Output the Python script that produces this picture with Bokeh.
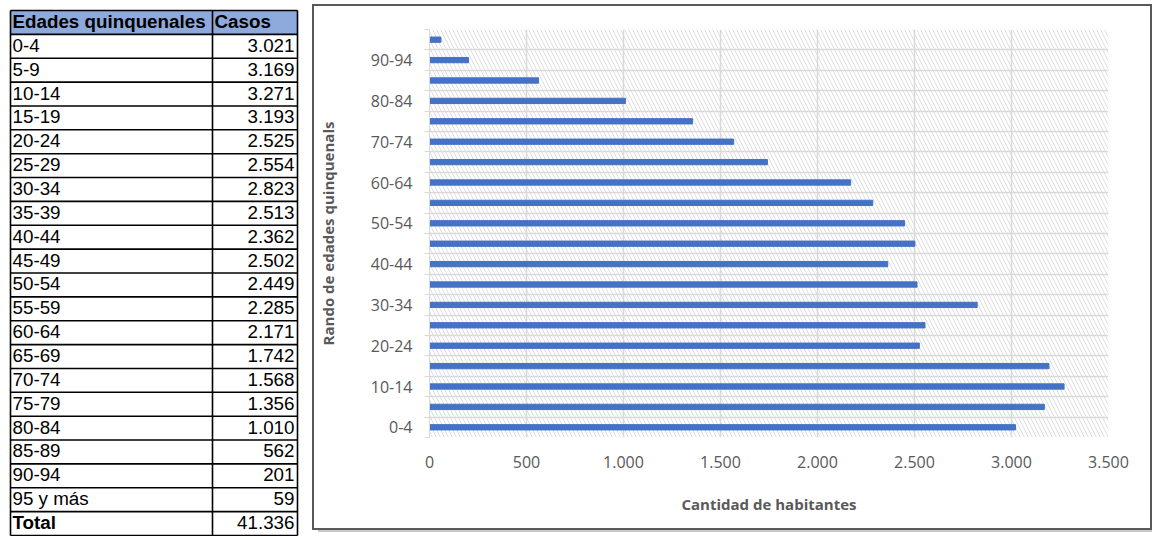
from bokeh.plotting import figure
from bokeh.models import Range1d, FixedTicker
from bokeh.core.properties import value
from bokeh.embed import file_html
from bokeh.resources import INLINE

# ---------------- data ----------------
age_groups = ["0-4", "5-9", "10-14", "15-19", "20-24", "25-29", "30-34", "35-39",
              "40-44", "45-49", "50-54", "55-59", "60-64", "65-69", "70-74", "75-79",
              "80-84", "85-89", "90-94", "95 y más"]
cases = [3021, 3169, 3271, 3193, 2525, 2554, 2823, 2513, 2362, 2502,
         2449, 2285, 2171, 1742, 1568, 1356, 1010, 562, 201, 59]
x_ticks = [0, 500, 1000, 1500, 2000, 2500, 3000, 3500]
x_tick_labels = ["0", "500", "1.000", "1.500", "2.000", "2.500", "3.000", "3.500"]
table_header = ["Edades quinquenales", "Casos"]
total_label = "Total"
x_title = "Cantidad de habitantes"
y_title = "Rando de edades quinquenals"


def fmt(v):
    return f"{v:,}".replace(",", ".")


# ---------------- table (left) ----------------
TW, TH = 312, 536
t = figure(width=TW, height=TH, x_range=Range1d(0, TW), y_range=Range1d(TH, 0),
           output_backend="svg", toolbar_location=None, min_border=0, title=None,
           styles={"position": "absolute", "left": "0px", "top": "0px"})
t.axis.visible = False
t.grid.visible = False
t.outline_line_color = None

row_labels = [table_header[0]] + age_groups + [total_label]
row_values = [table_header[1]] + [fmt(v) for v in cases] + [fmt(sum(cases))]
n = len(row_labels)
top0 = 10.0
rh = (TH - top0 - 1) / n
xl, xm, xr = 10.0, 212.0, 297.0

# header fill
t.quad(left=[xl], right=[xr], top=[top0], bottom=[top0 + rh],
       fill_color="#8EA9DB", line_color=None)

# grid lines of the table
hy = [top0 + i * rh for i in range(n + 1)]
t.segment(x0=[xl] * len(hy), x1=[xr] * len(hy), y0=hy, y1=hy,
          line_color="#000000", line_width=1.6)
t.segment(x0=[xl, xm, xr], x1=[xl, xm, xr], y0=[top0] * 3, y1=[hy[-1]] * 3,
          line_color="#000000", line_width=1.6)

ymid = [top0 + (i + 0.5) * rh - 1 for i in range(n)]
font = value("Liberation Sans")
common = dict(text_font=font, text_font_size="18.8px", text_baseline="middle",
              text_color="#000000")
# header
t.text(x=[xl + 2, xm + 2], y=[ymid[0]] * 2, text=table_header,
       text_font_style="bold", text_align="left", **common)
# left column
t.text(x=[xl + 2] * (n - 2), y=ymid[1:-1], text=row_labels[1:-1],
       text_align="left", **common)
t.text(x=[xl + 2], y=[ymid[-1]], text=[row_labels[-1]],
       text_font_style="bold", text_align="left", **common)
# right column
t.text(x=[xr - 3] * (n - 1), y=ymid[1:], text=row_values[1:],
       text_align="right", **common)

# ---------------- chart (right) ----------------
CW, CH = 836, 522
ncat = len(age_groups)
p = figure(width=CW, height=CH,
           x_range=Range1d(x_ticks[0], x_ticks[-1]), y_range=Range1d(0, ncat),
           output_backend="svg", toolbar_location=None, title=None,
           min_border_left=115, min_border_right=42,
           min_border_top=23, min_border_bottom=91,
           styles={"position": "absolute", "left": "314px", "top": "6px",
                   "outline": "2px solid #595959",
                   "box-shadow": "4px 4px 0 0 #c8c8c8"})
p.outline_line_color = None
p.background_fill_color = "white"
p.border_fill_color = "white"

# hatched plot area
p.quad(left=[x_ticks[0]], right=[x_ticks[-1]], bottom=[0], top=[ncat],
       fill_alpha=0, line_color=None,
       hatch_pattern="left_diagonal_line", hatch_color="#DEDEDE",
       hatch_scale=8, hatch_weight=1, level="image")

ypos = [i + 0.5 for i in range(ncat)]
p.hbar(y=ypos, left=0, right=cases, height=0.26, color="#4472C4")

# grids
p.xgrid.ticker = FixedTicker(ticks=x_ticks)
p.ygrid.ticker = FixedTicker(ticks=list(range(ncat + 1)))
p.grid.grid_line_color = "#D9D9D9"
p.grid.grid_line_width = 1.5

# x axis
p.xaxis.ticker = FixedTicker(ticks=x_ticks)
p.xaxis.major_label_overrides = {k: v for k, v in zip(x_ticks, x_tick_labels)}
p.xaxis.axis_line_color = None
p.xaxis.major_tick_line_color = None
p.xaxis.minor_tick_line_color = None
p.xaxis.major_label_standoff = 12
p.xaxis.axis_label = x_title
p.xaxis.axis_label_standoff = 23

# y axis
label_pos = ypos[::2]
p.yaxis.ticker = FixedTicker(ticks=label_pos, minor_ticks=list(range(ncat + 1)))
p.yaxis.major_label_overrides = {k: v for k, v in zip(label_pos, age_groups[::2])}
p.yaxis.axis_line_color = "#D9D9D9"
p.yaxis.major_tick_line_color = None
p.yaxis.minor_tick_line_color = "#D9D9D9"
p.yaxis.minor_tick_in = 0
p.yaxis.minor_tick_out = 5
p.yaxis.major_tick_in = 0
p.yaxis.major_tick_out = 0
p.yaxis.major_label_standoff = 12
p.yaxis.axis_label = y_title
p.yaxis.axis_label_standoff = 30

for ax in (p.xaxis, p.yaxis):
    ax.major_label_text_font = "Open Sans"
    ax.major_label_text_font_size = "16px"
    ax.major_label_text_color = "#595959"
    ax.axis_label_text_font = "Open Sans"
    ax.axis_label_text_font_size = "15px"
    ax.axis_label_text_font_style = "bold"
    ax.axis_label_text_color = "#595959"

open("out.html", "w").write(file_html([t, p], INLINE))
